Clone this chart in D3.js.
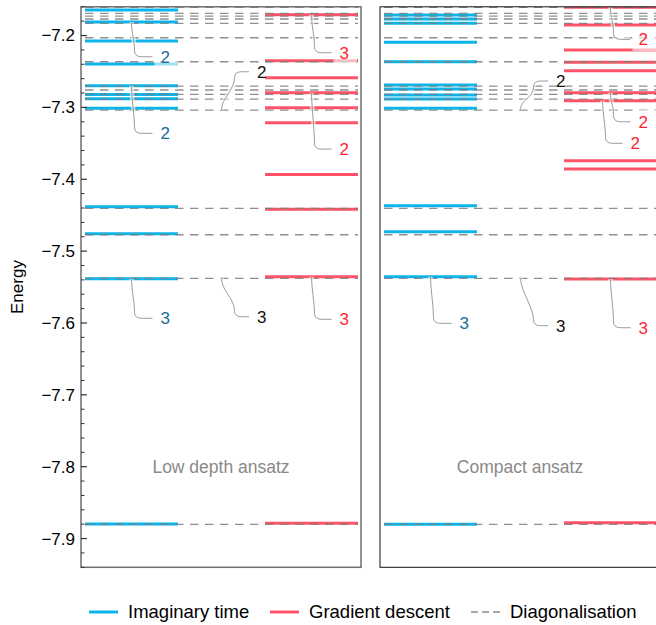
<!DOCTYPE html>
<html><head><meta charset="utf-8">
<script src="https://cdn.jsdelivr.net/npm/d3@7"></script>
<style>body{margin:0;background:#fff}svg{display:block;font-family:"Liberation Sans",Arial,sans-serif}</style>
</head><body><svg id="c" width="656" height="625"></svg>
<script>
// ---- data ----
const methods = ["Imaginary time", "Diagonalisation", "Gradient descent"];
const panelNames = ["Low depth ansatz", "Compact ansatz"];
const yTicks = [-7.9, -7.8, -7.7, -7.6, -7.5, -7.4, -7.3, -7.2];
const diagonalisation = [-7.1608, -7.1691, -7.1729, -7.1770, -7.1830, -7.2031, -7.2365, -7.2703, -7.2758, -7.2818, -7.2884, -7.3037, -7.4405, -7.4772, -7.5379, -7.8802];
const lowDepthImag = [-7.1645, -7.1812, -7.2077, -7.2397, -7.2699, -7.2822, -7.2880, -7.3013, -7.4382, -7.4758, -7.5384, -7.8798];
const lowDepthGrad = [-7.1711, -7.2351, -7.2587, -7.2796, -7.3005, -7.3213, -7.3932, -7.4419, -7.5357, -7.8788];
const compactImag = [-7.1715, -7.1770, -7.1830, -7.2095, -7.2365, -7.2689, -7.2745, -7.2828, -7.2884, -7.3013, -7.4368, -7.4730, -7.5357, -7.8802];
const compactGrad = [-7.1605, -7.1854, -7.2202, -7.2373, -7.2490, -7.2796, -7.2907, -7.3742, -7.3858, -7.5389, -7.8781];
// degeneracy labels: [method, level energy, label energy, text]
const lowDepthLabels = [
  ["Imaginary time", -7.1812, -7.2295, "2"],
  ["Imaginary time", -7.2699, -7.3361, "2"],
  ["Diagonalisation", -7.3037, -7.2504, "2"],
  ["Gradient descent", -7.1711, -7.2239, "3"],
  ["Gradient descent", -7.2796, -7.3580, "2"],
  ["Imaginary time", -7.5384, -7.5935, "3"],
  ["Diagonalisation", -7.5379, -7.5913, "3"],
  ["Gradient descent", -7.5357, -7.5949, "3"]
];
const compactLabels = [
  ["Imaginary time", -7.5357, -7.6005, "3"],
  ["Diagonalisation", -7.5379, -7.6038, "3"],
  ["Gradient descent", -7.5389, -7.6066, "3"],
  ["Diagonalisation", -7.3037, -7.2633, "2"],
  ["Gradient descent", -7.1605, -7.2053, "2"],
  ["Gradient descent", -7.2796, -7.3200, "2"],
  ["Gradient descent", -7.2907, -7.3500, "2"]
];

// ---- layout / style ----
const svg = d3.select("#c");
const topY = 6.8, bottomY = 567.3, panelW = 280;
const panelX = [81, 380];
const y = d3.scaleLinear().domain([-7.94, -7.16]).range([bottomY, topY]);
const xc = d3.scalePoint().domain(methods).range([50.5, 230.5]);
const halfW = 46.5;
const titleE = -7.80;
const colors = {"Imaginary time": "#0db4e9", "Gradient descent": "#ff5468"};
const labelColors = {"Imaginary time": "#1b6d97", "Diagonalisation": "#111", "Gradient descent": "#ff1f30"};
const labelOffset = {"Imaginary time": 29, "Diagonalisation": 35.5, "Gradient descent": 28};
const slant = {"Imaginary time": 3, "Diagonalisation": 13, "Gradient descent": 3};
const spine = [{c: "#6e6e6e", w: 1.5}, {c: "#111", w: 1}];
const leaderShift = [[0,0,0,0,0,0,0,0],[0,0,0,0,0,0,-8]];

const panels = [
  {name: panelNames[0], imag: lowDepthImag, grad: lowDepthGrad, labels: lowDepthLabels},
  {name: panelNames[1], imag: compactImag, grad: compactGrad, labels: compactLabels}
];

const defs = svg.append("defs");
panels.forEach((p, i) => {
  defs.append("clipPath").attr("id", "clip" + i).append("rect")
    .attr("x", panelX[i]).attr("y", topY).attr("width", panelW).attr("height", bottomY - topY);
});

panels.forEach((p, i) => {
  const g = svg.append("g");
  const x0 = panelX[i];
  const cg = g.append("g").attr("clip-path", `url(#clip${i})`);
  g.append("text").attr("x", x0 + panelW / 2).attr("y", y(titleE)).attr("dy", "0.35em")
    .attr("text-anchor", "middle").attr("fill", "#898989").attr("font-size", 17.5).text(p.name);
  const drawLevels = (arr, m) => {
    cg.selectAll(null).data(arr).join("line")
      .attr("x1", x0 + xc(m) - halfW).attr("x2", x0 + xc(m) + halfW)
      .attr("y1", d => y(d)).attr("y2", d => y(d))
      .attr("stroke", colors[m]).attr("stroke-width", 3);
  };
  drawLevels(p.imag, "Imaginary time");
  drawLevels(p.grad, "Gradient descent");
  cg.selectAll(null).data(diagonalisation).join("line")
    .attr("x1", x0 + xc(methods[0]) - halfW).attr("x2", x0 + xc(methods[2]) + halfW)
    .attr("y1", d => y(d)).attr("y2", d => y(d))
    .attr("stroke", "#7d7d7d").attr("stroke-opacity", 0.85).attr("stroke-width", 1.3)
    .attr("stroke-dasharray", "8.5,6.5");

  p.labels.forEach((a, k) => {
    const [m, lev, at, txt] = a;
    const lx = x0 + xc(m) + leaderShift[i][k];
    const y0 = y(lev), y1 = y(at);
    const s = Math.sign(y1 - y0);
    const sl = slant[m];
    const off = labelOffset[m];
    const path = d3.path();
    path.moveTo(lx, y0);
    path.bezierCurveTo(lx, y0 + s * 12, lx + sl, y1 - s * 18, lx + sl, y1 - s * 6);
    path.quadraticCurveTo(lx + sl, y1, lx + sl + 7, y1);
    path.lineTo(lx + off - 8, y1);
    g.append("path").attr("d", path.toString()).attr("fill", "none")
      .attr("stroke", "#fff").attr("stroke-opacity", 0.6).attr("stroke-width", 4.5);
    g.append("path").attr("d", path.toString()).attr("fill", "none")
      .attr("stroke", "#9c9c9c").attr("stroke-width", 1);
    const t = g.append("text").attr("x", lx + off).attr("y", y1).attr("dy", "0.36em")
      .attr("font-size", 17).attr("fill", labelColors[m]).text(txt);
    if (m !== "Diagonalisation") {
      const bb = t.node().getBBox();
      g.insert("rect", () => t.node())
        .attr("x", bb.x - 6).attr("y", y1 - 12).attr("width", bb.width + 14).attr("height", 24)
        .attr("fill", "#fff").attr("fill-opacity", 0.6);
    }
  });

  g.append("rect").attr("x", x0).attr("y", topY).attr("width", panelW).attr("height", bottomY - topY)
    .attr("fill", "none").attr("stroke", spine[i].c).attr("stroke-width", spine[i].w);
});

const ax = svg.append("g");
const minor = d3.range(-7.94, -7.159, 0.02).filter(v => Math.abs(Math.round(v * 10) - v * 10) > 1e-6);
ax.selectAll(null).data(minor).join("line")
  .attr("x1", panelX[0]).attr("x2", panelX[0] + 3.5).attr("y1", d => y(d)).attr("y2", d => y(d))
  .attr("stroke", "#333").attr("stroke-width", 1);
ax.selectAll(null).data(yTicks).join("line")
  .attr("x1", panelX[0]).attr("x2", panelX[0] + 6).attr("y1", d => y(d)).attr("y2", d => y(d))
  .attr("stroke", "#333").attr("stroke-width", 1.2);
ax.selectAll(null).data(yTicks).join("text")
  .attr("x", panelX[0] - 6).attr("y", d => y(d)).attr("dy", "0.35em").attr("text-anchor", "end")
  .attr("font-size", 17).attr("fill", "#000").text(d => d3.format(".1f")(d));
svg.append("text").attr("transform", `translate(17.5,${(topY + bottomY) / 2}) rotate(-90)`)
  .attr("text-anchor", "middle").attr("dy", "0.35em").attr("font-size", 17).text("Energy");

const legendItems = [
  {label: methods[0], color: colors["Imaginary time"], dash: null, w: 3, x: 89},
  {label: methods[2], color: colors["Gradient descent"], dash: null, w: 3, x: 270},
  {label: methods[1], color: "#8a8a8a", dash: "7,4", w: 1.3, x: 471}
];
const lg = svg.append("g");
legendItems.forEach(it => {
  lg.append("line").attr("x1", it.x).attr("x2", it.x + 29).attr("y1", 612).attr("y2", 612)
    .attr("stroke", it.color).attr("stroke-width", it.w).attr("stroke-dasharray", it.dash);
  lg.append("text").attr("x", it.x + 39).attr("y", 612).attr("dy", "0.35em")
    .attr("font-size", 18.5).attr("fill", "#000").text(it.label);
});
</script></body></html>
